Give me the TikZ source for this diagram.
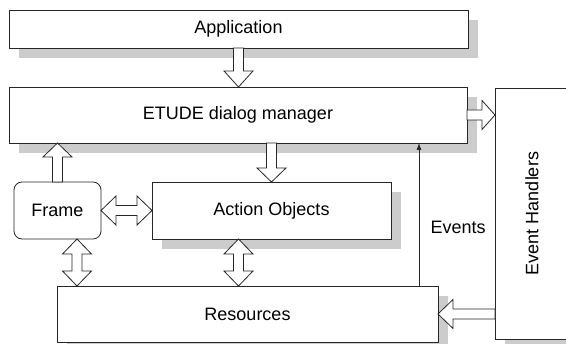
\documentclass[tikz,border=0pt]{standalone}
\usepackage{fontspec}
\setmainfont{Liberation Sans}
\usetikzlibrary{calc,shadows,arrows.meta}

\tikzset{
  txt/.style={font=\fontsize{18}{21}\selectfont},
  box/.style={draw=black!85, line width=0.8pt, fill=white, inner sep=0pt, outer sep=0pt,
    anchor=north west, txt,
    drop shadow={shadow xshift=10pt, shadow yshift=-10pt, fill=black!20, opacity=1}},
  roundbox/.style={draw=black!85, line width=0.8pt, fill=white, inner sep=0pt, outer sep=0pt,
    anchor=north west, rounded corners=8pt, txt},
  blk/.style={draw=black!85, line width=0.8pt, fill=white, line join=miter},
  evt/.style={draw=black!85, line width=0.8pt, -{Latex[length=7pt,width=5pt]}}
}

% single hollow block arrow: #1 head length, #2 start, #3 end
\newcommand\blockarr[3]{%
  \path #2; \pgfgetlastxy{\baxa}{\baya}%
  \path #3; \pgfgetlastxy{\baxb}{\bayb}%
  \pgfmathsetmacro\bal{veclen(\baxb-\baxa,\bayb-\baya)}%
  \pgfmathsetmacro\baa{atan2(\bayb-\baya,\baxb-\baxa)}%
  \begin{scope}[shift={(\baxa,\baya)}, rotate=\baa, x=1pt, y=1pt]
    \draw[blk] (0,-5) -- (\bal-#1,-5) -- (\bal-#1,-14.5) -- (\bal,0)
      -- (\bal-#1,14.5) -- (\bal-#1,5) -- (0,5) -- cycle;
  \end{scope}}
% double hollow block arrow: #1 start, #2 end
\newcommand\dblockarr[2]{%
  \path #1; \pgfgetlastxy{\baxa}{\baya}%
  \path #2; \pgfgetlastxy{\baxb}{\bayb}%
  \pgfmathsetmacro\bal{veclen(\baxb-\baxa,\bayb-\baya)}%
  \pgfmathsetmacro\baa{atan2(\bayb-\baya,\baxb-\baxa)}%
  \begin{scope}[shift={(\baxa,\baya)}, rotate=\baa, x=1pt, y=1pt]
    \draw[blk] (0,0) -- (15,-14.5) -- (15,-5) -- (\bal-15,-5) -- (\bal-15,-14.5)
      -- (\bal,0) -- (\bal-15,14.5) -- (\bal-15,5) -- (15,5) -- (15,14.5) -- cycle;
  \end{scope}}

\begin{document}
\begin{tikzpicture}[x=1pt, y=-1pt]
  \useasboundingbox (0,0) rectangle (566,344);
  \clip (0,0) rectangle (566,344);

  \node[box, minimum width=459pt, minimum height=38pt] (app) at (9,10) {Application};
  \node[box, minimum width=458pt, minimum height=56pt] (etude) at (9,87) {ETUDE dialog manager};
  \node[box, minimum width=74pt, minimum height=251pt] (eh) at (495,88) {};
  \node[txt, rotate=90] (ehl) at (eh.center) {Event Handlers};
  \node[roundbox, minimum width=87pt, minimum height=57pt] (frame) at (14,182) {Frame};
  \node[box, minimum width=239pt, minimum height=57pt] (ao) at (152,182) {Action Objects};
  \node[box, minimum width=381pt, minimum height=56pt] (res) at (57,286) {Resources};

  % block arrows
  \coordinate (frs) at ($(frame.south)+(19.5,0)$);
  \blockarr{16}{(app.south)}{(app.south |- etude.north)}
  \blockarr{13}{(etude.east)}{(etude.east -| eh.west)}
  \blockarr{14}{(frame.north)}{(frame.north |- etude.south)}
  \blockarr{14}{(ao.north |- etude.south)}{(ao.north)}
  \blockarr{15}{(eh.west |- res.east)}{(res.east)}
  \dblockarr{(frame.east)}{(ao.west)}
  \dblockarr{(frs)}{(frs |- res.north)}
  \dblockarr{(app.south |- ao.south)}{(app.south |- res.north)}

  % events
  \coordinate (evs) at ($(res.north east)+(-19,0)$);
  \draw[evt] (evs) -- (evs |- etude.south);
  \node[txt, anchor=west] (evl) at (427,227) {Events};
\end{tikzpicture}
\end{document}
